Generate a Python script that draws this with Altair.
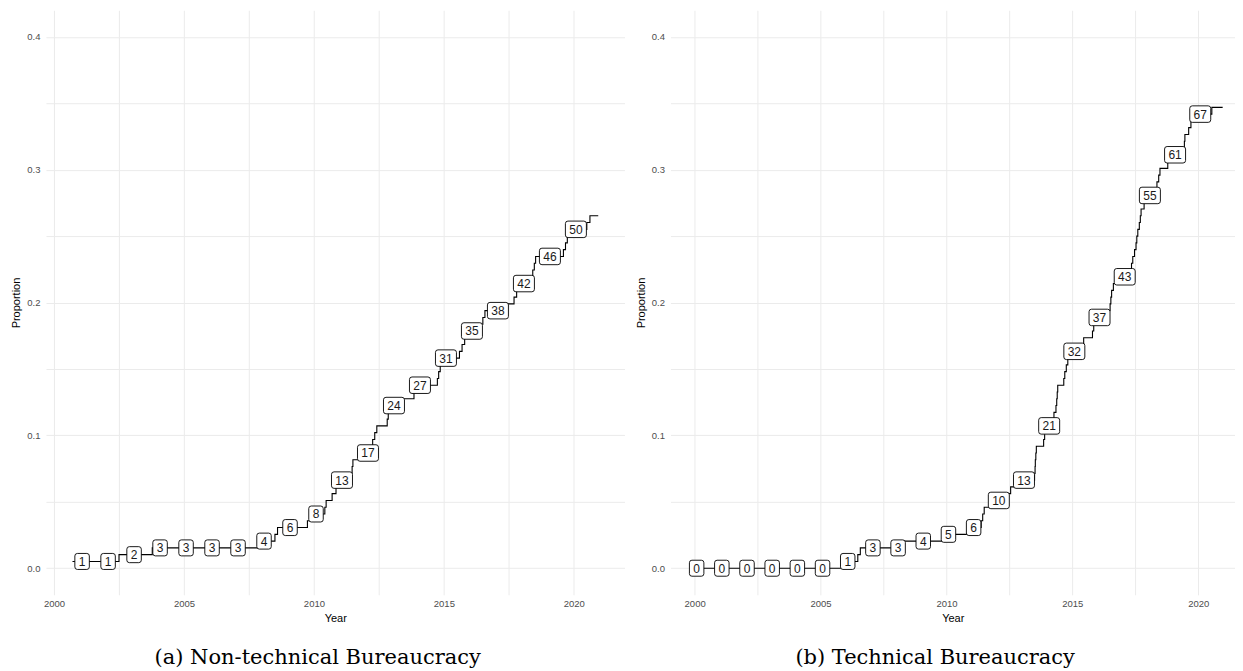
import altair as alt
import pandas as pd

# Denominator used to turn cumulative counts into proportions
N_TOTAL = 196

# ---- (a) Non-technical Bureaucracy: step line breakpoints (year, cumulative count)
nt_times = [2000.71, 2002.5, 2003.78, 2007.85, 2008.5, 2008.6, 2009.75, 2009.9,
            2010.42, 2010.47, 2010.7, 2010.85, 2010.95, 2011.45, 2011.47, 2011.5,
            2011.85, 2012.18, 2012.26, 2012.34, 2012.42, 2012.82, 2012.86, 2012.95,
            2013.4, 2013.85, 2013.95, 2014.75, 2014.8, 2014.86, 2014.94, 2015.6,
            2015.7, 2015.8, 2015.93, 2016.4, 2016.5, 2016.58, 2017.45, 2017.7,
            2017.8, 2017.95, 2018.35, 2018.42, 2018.48, 2018.53, 2019.6, 2019.68,
            2019.75, 2019.92, 2020.5, 2020.62, 2020.94]
nt_counts = [1, 2, 3, 4, 5, 6, 7, 8,
             9, 10, 11, 12, 13, 14, 15, 16,
             17, 18, 19, 20, 21, 22, 23, 24,
             25, 26, 27, 28, 29, 30, 31, 32,
             33, 34, 35, 36, 37, 38, 39, 40,
             41, 42, 43, 44, 45, 46, 47, 48,
             49, 50, 51, 52, 52]
nt_label_years = [2001, 2002, 2003, 2004, 2005, 2006, 2007, 2008, 2009, 2010,
                  2011, 2012, 2013, 2014, 2015, 2016, 2017, 2018, 2019, 2020]
nt_label_counts = [1, 1, 2, 3, 3, 3, 3, 4, 6, 8,
                   13, 17, 24, 27, 31, 35, 38, 42, 46, 50]

# ---- (b) Technical Bureaucracy
t_times = [2000.0, 2005.85, 2006.48, 2006.58, 2008.3, 2009.9, 2010.9, 2011.38,
           2011.44, 2011.5, 2011.85, 2012.45, 2012.55, 2012.9, 2013.5, 2013.52,
           2013.53, 2013.55, 2013.57, 2013.86, 2013.9, 2013.95, 2014.19, 2014.27,
           2014.35, 2014.38, 2014.4, 2014.42, 2014.66, 2014.7, 2014.76, 2014.82,
           2014.95, 2015.35, 2015.45, 2015.8, 2015.85, 2015.95, 2016.47, 2016.5,
           2016.53, 2016.56, 2016.63, 2016.7, 2017.3, 2017.35, 2017.4, 2017.47,
           2017.53, 2017.56, 2017.6, 2017.66, 2017.7, 2017.73, 2017.85, 2017.95,
           2018.3, 2018.36, 2018.43, 2018.48, 2018.79, 2018.95, 2019.42, 2019.45,
           2019.47, 2019.62, 2019.71, 2019.9, 2020.54, 2020.97]
t_counts = [0, 1, 2, 3, 4, 5, 6, 7,
            8, 9, 10, 11, 12, 13, 14, 15,
            16, 17, 18, 19, 20, 21, 22, 23,
            24, 25, 26, 27, 28, 29, 30, 31,
            32, 33, 34, 35, 36, 37, 38, 39,
            40, 41, 42, 43, 44, 45, 46, 47,
            48, 49, 50, 51, 52, 53, 54, 55,
            56, 57, 58, 59, 60, 61, 62, 63,
            64, 65, 66, 67, 68, 68]
t_label_years = [2000, 2001, 2002, 2003, 2004, 2005, 2006, 2007, 2008, 2009, 2010,
                 2011, 2012, 2013, 2014, 2015, 2016, 2017, 2018, 2019, 2020]
t_label_counts = [0, 0, 0, 0, 0, 0, 1, 3, 3, 4, 5,
                  6, 10, 13, 21, 32, 37, 43, 55, 61, 67]

x_grid = [2000, 2002.5, 2005, 2007.5, 2010, 2012.5, 2015, 2017.5, 2020]
y_grid = [0, 0.05, 0.1, 0.15, 0.2, 0.25, 0.3, 0.35, 0.4]

# rounded-rectangle label boxes (custom symbol paths)
BOX_ONE = ("M -0.45,-0.762 L 0.45,-0.762 Q 0.69,-0.762 0.69,-0.522 L 0.69,0.522 "
           "Q 0.69,0.762 0.45,0.762 L -0.45,0.762 Q -0.69,0.762 -0.69,0.522 "
           "L -0.69,-0.522 Q -0.69,-0.762 -0.45,-0.762 Z")
BOX_TWO = ("M -0.76,-0.786 L 0.76,-0.786 Q 1,-0.786 1,-0.546 L 1,0.546 "
           "Q 1,0.786 0.76,0.786 L -0.76,0.786 Q -1,0.786 -1,0.546 "
           "L -1,-0.546 Q -1,-0.786 -0.76,-0.786 Z")


def panel(times, counts, lyears, lcounts, xdom, width, caption):
    line_df = pd.DataFrame({"t": times, "n": counts})
    lab_df = pd.DataFrame({"year": lyears, "n": lcounts})

    x = alt.X("t:Q",
              scale=alt.Scale(domain=xdom, nice=False, zero=False),
              axis=alt.Axis(title="Year", values=x_grid, format="d",
                            labelExpr="datum.value % 5 === 0 ? datum.label : ''",
                            labelFlush=False, labelOverlap=False,
                            labelPadding=4, titlePadding=4))
    y = alt.Y("p:Q",
              scale=alt.Scale(domain=[-0.02, 0.42], nice=False, zero=False),
              axis=alt.Axis(title="Proportion", values=y_grid, format=".1f",
                            labelExpr="abs(datum.value*10 - round(datum.value*10)) < 0.001 ? datum.label : ''",
                            labelFlush=False, labelOverlap=False,
                            labelPadding=6, titlePadding=5))

    line = alt.Chart(line_df).transform_calculate(
        p=f"datum.n / {N_TOTAL}"
    ).mark_line(interpolate="step-after", color="black", strokeWidth=1.1).encode(x=x, y=y)

    labs = alt.Chart(lab_df).transform_calculate(
        p=f"datum.n / {N_TOTAL}",
        t="datum.year + 0.08",
        d="datum.n >= 10 ? 'two' : 'one'",
    )
    boxes = labs.mark_point(filled=True, fill="white", stroke="black",
                            strokeWidth=0.9, opacity=1, size=441).encode(
        x=x, y=y,
        shape=alt.Shape("d:N", scale=alt.Scale(domain=["one", "two"],
                                               range=[BOX_ONE, BOX_TWO]),
                        legend=None),
    )
    texts = labs.mark_text(font="Liberation Sans", fontSize=12, color="#1a1a1a",
                           baseline="middle", align="center", dy=0.5).encode(
        x=x, y=y, text=alt.Text("n:Q", format="d"))

    return alt.layer(line, boxes, texts).properties(
        width=width, height=585,
        title=alt.TitleParams(caption, orient="bottom", anchor="middle",
                              frame="bounds", font="DejaVu Serif", fontSize=21,
                              fontWeight="normal", color="black", offset=24,
                              baseline="top"),
    )


left = panel(nt_times, nt_counts, nt_label_years, nt_label_counts,
             [1999.69, 2021.95], 579, "(a) Non-technical Bureaucracy")
right = panel(t_times, t_counts, t_label_years, t_label_counts,
              [1999.04, 2021.46], 565, "(b) Technical Bureaucracy")

chart = alt.hconcat(left, right, spacing=10).properties(
    padding={"left": 2, "top": 2, "right": 0, "bottom": 0}
).configure_view(stroke=None).configure_axis(
    grid=True, gridColor="#EBEBEB", gridWidth=1,
    domain=False, ticks=False,
    labelFont="Liberation Sans", labelFontSize=9.5, labelColor="#4D4D4D",
    titleFont="Liberation Sans", titleFontSize=11, titleFontWeight="normal",
    titleColor="black",
)

chart.save("out.html", embed_options={"renderer": "svg", "actions": False})
